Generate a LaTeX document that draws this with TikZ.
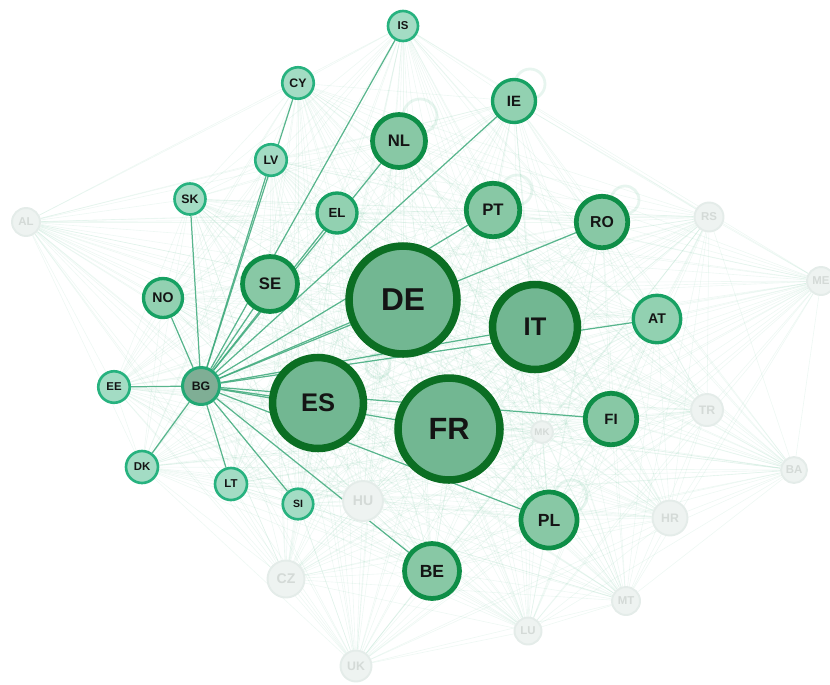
\documentclass[tikz,border=0pt]{standalone}
\usepackage{fontspec}
\setmainfont{Liberation Sans}
\usetikzlibrary{backgrounds}

\definecolor{hubfill}{HTML}{72B792}
\definecolor{hubline}{HTML}{0B6E23}
\definecolor{midfill}{HTML}{88C8A5}
\definecolor{midline}{HTML}{0E8E47}
\definecolor{smallfill}{HTML}{92D1B1}
\definecolor{smallline}{HTML}{17A163}
\definecolor{tinyfill}{HTML}{A3DCC4}
\definecolor{tinyline}{HTML}{27B27F}
\definecolor{bgfill}{HTML}{7FAE95}
\definecolor{bgline}{HTML}{22A874}
\definecolor{fadefill}{HTML}{EEF3F1}
\definecolor{fadeline}{HTML}{E4ECE9}
\definecolor{fadetext}{HTML}{D4DAD7}
\definecolor{spoke}{HTML}{3FAA7C}
\definecolor{web}{HTML}{7CC7A5}

\tikzset{
  stat/.style={circle, inner sep=0pt, text=black!92},
  vel/.style={minimum size=#1*0.04cm},
  pismo/.style={font=\fontsize{#1}{#1}\selectfont\bfseries},
  hub/.style={stat, fill=hubfill, draw=hubline, line width=4.3pt},
  mid/.style={stat, fill=midfill, draw=midline, line width=2.7pt},
  small/.style={stat, fill=smallfill, draw=smallline, line width=1.9pt},
  tiny/.style={stat, fill=tinyfill, draw=tinyline, line width=1.5pt},
  focus/.style={stat, fill=bgfill, draw=bgline, line width=1.7pt},
  faded/.style={stat, fill=fadefill, draw=fadeline, line width=1.1pt, text=fadetext},
  sit/.style={web, line width=0.35pt, opacity=0.13},
  paprsek/.style={spoke, line width=0.7pt, opacity=0.85},
  smycka/.style={web, line width=1.6pt, opacity=0.18}
}

\def\uzly{IS,CY,IE,NL,LV,SK,EL,PT,RO,AL,RS,ME,SE,DE,IT,AT,NO,EE,BG,ES,FR,FI,TR,MK,BA,DK,LT,SI,HU,PL,HR,BE,CZ,MT,LU,UK}

\begin{document}
\begin{tikzpicture}[x=0.02cm, y=-0.02cm]
  \useasboundingbox (0,0) rectangle (830,684);

  % velke zeme
  \node[hub, vel=54, pismo=18] (DE) at (403,300) {DE};
  \node[hub, vel=51, pismo=17.5] (FR) at (449,429) {FR};
  \node[hub, vel=45.5, pismo=14.5] (ES) at (318,403) {ES};
  \node[hub, vel=42.5, pismo=14.5] (IT) at (535,327) {IT};

  % stredni
  \node[mid, vel=26.5, pismo=9.5] (NL) at (399,141) {NL};
  \node[mid, vel=27.5, pismo=9.5] (SE) at (270,284) {SE};
  \node[mid, vel=26.75, pismo=9.5] (PT) at (493,210) {PT};
  \node[mid, vel=25.75, pismo=9] (RO) at (602,222) {RO};
  \node[mid, vel=25.75, pismo=8.5] (FI) at (611,419) {FI};
  \node[mid, vel=28, pismo=10] (PL) at (549,520) {PL};
  \node[mid, vel=27.5, pismo=10] (BE) at (432,571) {BE};

  % male
  \node[small, vel=23.75, pismo=8] (AT) at (657,319) {AT};
  \node[small, vel=21.5, pismo=8.5] (IE) at (514,101) {IE};
  \node[small, vel=19.5, pismo=8] (NO) at (163,298) {NO};
  \node[small, vel=20, pismo=7.5] (EL) at (337,213) {EL};

  % nejmensi
  \node[tiny, vel=15.75, pismo=7] (CY) at (298,83) {CY};
  \node[tiny, vel=15.75, pismo=7] (LV) at (271,160) {LV};
  \node[tiny, vel=15.5, pismo=7] (SK) at (190,199) {SK};
  \node[tiny, vel=15, pismo=6.5] (IS) at (403,26) {IS};
  \node[tiny, vel=15.75, pismo=6.5] (EE) at (114,387) {EE};
  \node[tiny, vel=16, pismo=6.5] (DK) at (142,467) {DK};
  \node[tiny, vel=16, pismo=6.5] (LT) at (231,484) {LT};
  \node[tiny, vel=15.25, pismo=6] (SI) at (298,504) {SI};

  % bulharsko
  \node[focus, vel=18.5, pismo=7] (BG) at (201,386) {BG};

  % ostatni (vybledle)
  \node[faded, vel=20, pismo=8] (HU) at (363,501) {HU};
  \node[faded, vel=18.5, pismo=8] (CZ) at (286,579) {CZ};
  \node[faded, vel=15.5, pismo=7] (UK) at (356,666) {UK};
  \node[faded, vel=13.5, pismo=6.5] (LU) at (528,631) {LU};
  \node[faded, vel=14, pismo=6.5] (MT) at (626,601) {MT};
  \node[faded, vel=17.5, pismo=7] (HR) at (670,518) {HR};
  \node[faded, vel=16, pismo=7] (TR) at (707,410) {TR};
  \node[faded, vel=13, pismo=6.5] (BA) at (794,470) {BA};
  \node[faded, vel=14.5, pismo=6.5] (RS) at (709,217) {RS};
  \node[faded, vel=14, pismo=6.5] (ME) at (821,281) {ME};
  \node[faded, vel=14, pismo=6.5] (AL) at (26,222) {AL};
  \node[faded, vel=11, pismo=5.5] (MK) at (542,432) {MK};

  \begin{scope}[on background layer]
    % sit vsech vazeb
    \foreach \a [count=\i] in \uzly {
      \foreach \b [count=\j] in \uzly {
        \ifnum\j>\i \draw[sit] (\a) -- (\b); \fi
      }
    }

    % smycky
    \draw[smycka] (420,116) circle[radius=17];
    \draw[smycka] (530,84) circle[radius=15];
    \draw[smycka] (517,190) circle[radius=15];
    \draw[smycka] (625,200) circle[radius=14];
    \draw[smycka] (571,496) circle[radius=16];
    \draw[smycka] (378,366) circle[radius=12];

    % vazby Bulharska
    \foreach \c in {IS,CY,IE,NL,LV,SK,EL,PT,RO,SE,DE,IT,AT,NO,EE,ES,FR,FI,DK,LT,SI,PL,BE}
      \draw[paprsek] (BG) -- (\c);
  \end{scope}
\end{tikzpicture}
\end{document}
